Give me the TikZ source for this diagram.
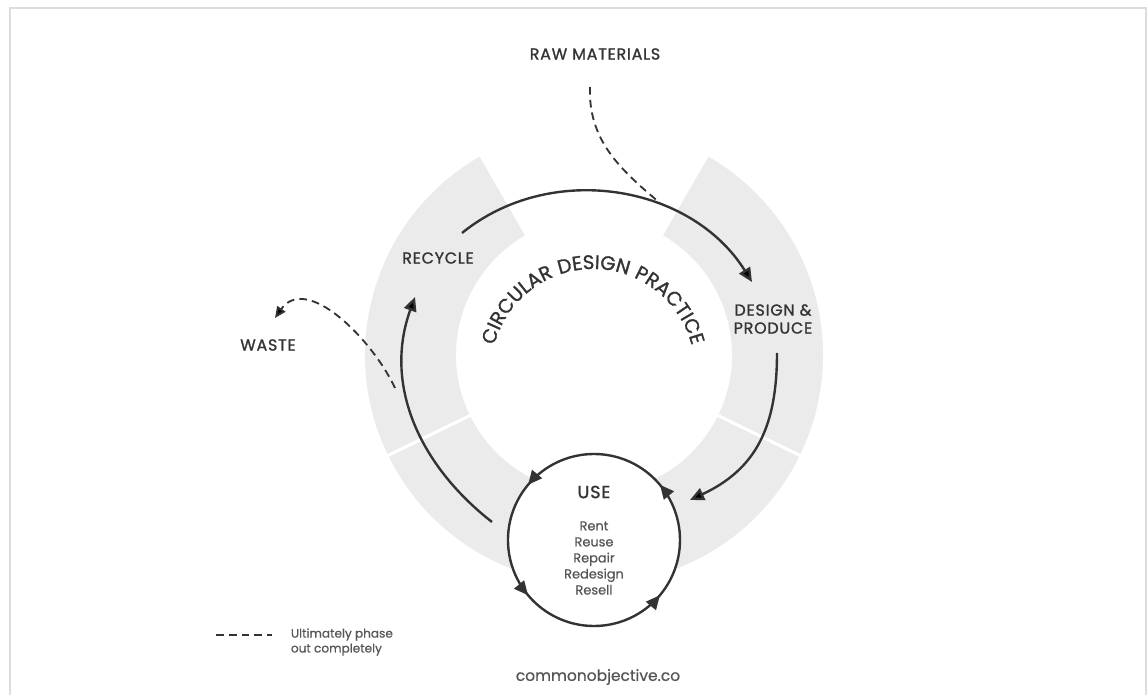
\documentclass[tikz,border=0pt]{standalone}
\usepackage{fontspec}
\setmainfont{Poppins}
\newfontfamily\capsfont{Poppins}[FakeBold=1.2, LetterSpace=5]
\newfontfamily\softfont{Poppins}[FakeBold=0.6]
\usetikzlibrary{arrows.meta,decorations.markings,decorations.text}
\definecolor{ringgray}{HTML}{EBEBEB}
\definecolor{ink}{HTML}{333333}
\definecolor{keygray}{HTML}{555555}
\definecolor{framegray}{HTML}{DDDDDD}
\newcommand\circfont{\capsfont\fontsize{14}{14}\selectfont}

\begin{document}
\begin{tikzpicture}[x=0.25mm,y=0.25mm,
  stage/.style={text=ink, font=\capsfont\fontsize{11.3}{12.8}\selectfont, align=center},
  option/.style={text=keygray, font=\softfont\fontsize{9.2}{11.4}\selectfont, align=center},
  flow/.style={draw=ink, line width=1.7pt, -{Triangle[length=10pt,width=9pt]}},
  phase/.style={draw=ink, line width=1.3pt, dash pattern=on 5.5pt off 3.6pt}]
\useasboundingbox (-594,-340) rectangle (554,355);
\draw[framegray, line width=1.5pt] (-584,-350) -- (-584,347) -- (552,347) -- (552,-350);

\fill[ringgray] (120:229) arc[start angle=120, end angle=420, radius=229]
  -- (60:138) arc[start angle=420, end angle=120, radius=138] -- cycle;
\foreach \a in {206,334}
  \draw[white, line width=2.2pt] (\a:134) -- (\a:233);

\path[decorate, decoration={text along path, text align=center, text color=ink,
  text={|\circfont|CIRCULAR DESIGN PRACTICE}}]
  (-1,-16) ++(166:102) arc[start angle=166, end angle=14, radius=102];

\node[stage] (raw) at (1,301) {RAW MATERIALS};
\node[stage] (recycle) at (-156,97) {RECYCLE};
\node[stage] (design) at (179,36) {DESIGN \&\\PRODUCE};
\node[stage] (waste) at (-326,10) {WASTE};

\coordinate (use) at (0,-185);
\fill[white] (use) circle[radius=86];
\draw[ink, line width=1.7pt, postaction=decorate, decoration={markings,
  mark=at position 0.111 with {\arrow{Triangle[length=10pt,width=9pt]}},
  mark=at position 0.389 with {\arrow{Triangle[length=10pt,width=9pt]}},
  mark=at position 0.611 with {\arrow{Triangle[length=10pt,width=9pt]}},
  mark=at position 0.889 with {\arrow{Triangle[length=10pt,width=9pt]}}}]
  (use) circle[radius=86];
\node[stage, font=\capsfont\fontsize{12.5}{14}\selectfont] (usetitle) at (0,-137) {USE};
\node[option] (useways) at (0,-203) {Rent\\Reuse\\Repair\\Redesign\\Resell};

\coordinate (rec-out) at (-132,122);
\coordinate (des-in) at (158,73);
\coordinate (des-out) at (183,2);
\coordinate (use-in) at (96,-145);
\coordinate (use-out) at (-102,-167);
\coordinate (rec-in) at (-179,58);
\draw[flow] (rec-out) to[out=39, in=122] (des-in);
\draw[flow] (des-out) to[out=-90, in=25, looseness=1.1] (use-in);
\draw[flow] (use-out) to[out=142, in=250] (rec-in);

\coordinate (raw-out) at (-4,268);
\coordinate (raw-in) at (66,152);
\coordinate (waste-out) at (-199,-33);
\coordinate (waste-in) at (-319,37);
\draw[phase] (raw-out) to[out=-92, in=140] (raw-in);
\draw[phase, -{Triangle[length=8pt,width=7pt]}] (waste-out) to[out=115, in=55] (waste-in);

\coordinate (key-a) at (-378,-280);
\coordinate (key-b) at (-322,-280);
\draw[phase] (key-a) -- (key-b);
\node[option, anchor=west, align=left, font=\softfont\fontsize{8.6}{10.6}\selectfont] (keytext) at (-308,-287)
  {Ultimately phase\\out completely};
\node[option, font=\softfont\fontsize{11}{13}\selectfont] (site) at (4,-322) {commonobjective.co};
\end{tikzpicture}
\end{document}
